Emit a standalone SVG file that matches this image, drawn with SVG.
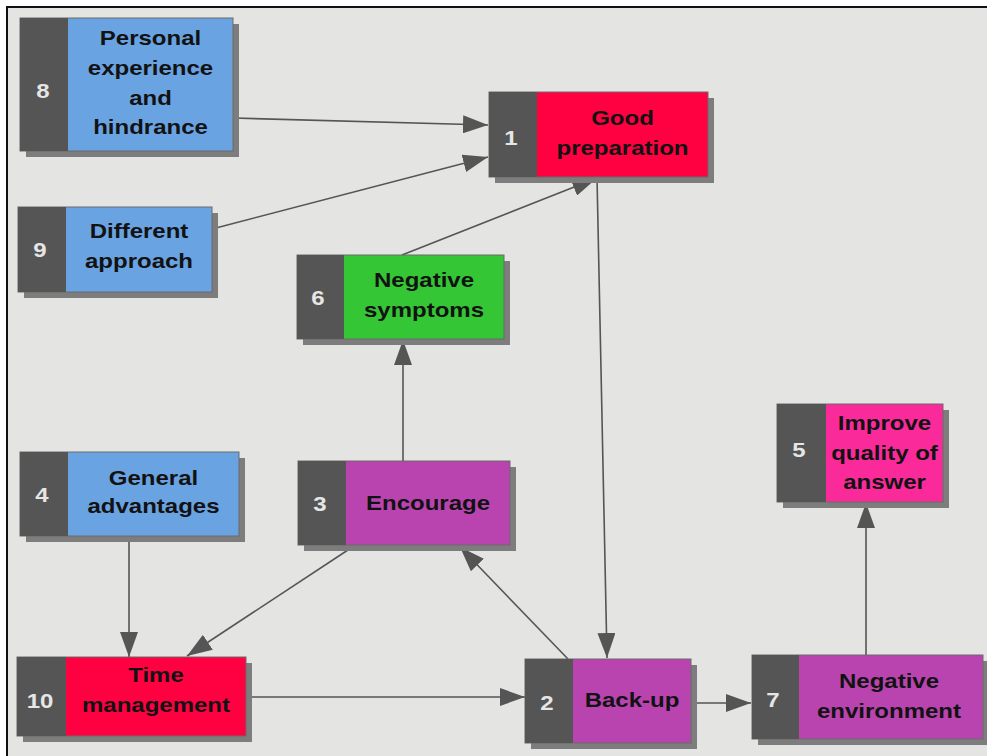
<svg xmlns="http://www.w3.org/2000/svg" width="987" height="756" viewBox="0 0 987 756">
  <defs>
    <style>
      .shadow { fill: #7d7d7d; }
      .box { stroke: #6a6a6a; stroke-width: 1; }
      .strip { fill: #555555; }
      .blue { fill: #69a3e2; }
      .red { fill: #ff0040; }
      .green { fill: #34c634; }
      .purple { fill: #b944b0; }
      .pink { fill: #fa2a9b; }
      .lbl { font-family: "Liberation Sans", Arial, sans-serif; font-weight: bold; font-size: 20px; fill: #121212; text-anchor: middle; }
      .num { font-family: "Liberation Sans", Arial, sans-serif; font-weight: bold; font-size: 20px; fill: #e6e6e6; text-anchor: middle; }
      .edge { stroke: #555555; stroke-width: 1.6; fill: none; marker-end: url(#arrow); }
    </style>
    <marker id="arrow" markerWidth="25" markerHeight="18" refX="25" refY="9" orient="auto" markerUnits="userSpaceOnUse">
      <path d="M0,0 L25,9 L0,18 z" fill="#555555"/>
    </marker>
  </defs>

  <!-- canvas and frame -->
  <rect x="0" y="0" width="987" height="756" fill="#ffffff"/>
  <rect x="7" y="7" width="990" height="760" fill="#e4e4e3" stroke="#111111" stroke-width="2"/>

  <!-- connectors -->
  <g id="connectors">
    <line class="edge" x1="233" y1="118" x2="488" y2="125"/>
    <line class="edge" x1="212" y1="229" x2="488" y2="157"/>
    <line class="edge" x1="402" y1="255" x2="597" y2="178"/>
    <line class="edge" x1="597" y1="177" x2="607" y2="658"/>
    <line class="edge" x1="568" y1="659" x2="460" y2="547"/>
    <line class="edge" x1="354" y1="546" x2="187" y2="656"/>
    <line class="edge" x1="129" y1="536" x2="129" y2="657"/>
    <line class="edge" x1="403" y1="461" x2="403" y2="340"/>
    <line class="edge" x1="246" y1="697" x2="525" y2="697"/>
    <line class="edge" x1="691" y1="703" x2="751" y2="703"/>
    <line class="edge" x1="866" y1="655" x2="866" y2="503"/>
  </g>

  <!-- 8: Personal experience and hindrance -->
  <g id="node8">
    <rect class="shadow" x="26" y="24" width="213" height="133"/>
    <rect class="box blue" x="20" y="18" width="213" height="133"/>
    <rect class="strip" x="20" y="18" width="48" height="133"/>
    <g transform="translate(43 0) scale(1.2 1)"><text class="num" x="0" y="98">8</text></g>
    <g transform="translate(150.5 0) scale(1.2 1)">
      <text class="lbl" x="0" y="45">Personal</text>
      <text class="lbl" x="0" y="75">experience</text>
      <text class="lbl" x="0" y="105">and</text>
      <text class="lbl" x="0" y="134">hindrance</text>
    </g>
  </g>

  <!-- 1: Good preparation -->
  <g id="node1">
    <rect class="shadow" x="495" y="98" width="219" height="85"/>
    <rect class="box red" x="489" y="92" width="219" height="85"/>
    <rect class="strip" x="489" y="92" width="48" height="85"/>
    <g transform="translate(511 0) scale(1.2 1)"><text class="num" x="0" y="145">1</text></g>
    <g transform="translate(622.5 0) scale(1.2 1)">
      <text class="lbl" x="0" y="125">Good</text>
      <text class="lbl" x="0" y="155">preparation</text>
    </g>
  </g>

  <!-- 9: Different approach -->
  <g id="node9">
    <rect class="shadow" x="24" y="213" width="194" height="85"/>
    <rect class="box blue" x="18" y="207" width="194" height="85"/>
    <rect class="strip" x="18" y="207" width="48" height="85"/>
    <g transform="translate(40 0) scale(1.2 1)"><text class="num" x="0" y="257">9</text></g>
    <g transform="translate(139 0) scale(1.2 1)">
      <text class="lbl" x="0" y="238">Different</text>
      <text class="lbl" x="0" y="268">approach</text>
    </g>
  </g>

  <!-- 6: Negative symptoms -->
  <g id="node6">
    <rect class="shadow" x="303" y="261" width="207" height="84"/>
    <rect class="box green" x="297" y="255" width="207" height="84"/>
    <rect class="strip" x="297" y="255" width="47" height="84"/>
    <g transform="translate(318 0) scale(1.2 1)"><text class="num" x="0" y="305">6</text></g>
    <g transform="translate(424 0) scale(1.2 1)">
      <text class="lbl" x="0" y="287">Negative</text>
      <text class="lbl" x="0" y="317">symptoms</text>
    </g>
  </g>

  <!-- 5: Improve quality of answer -->
  <g id="node5">
    <rect class="shadow" x="783" y="410" width="166" height="98"/>
    <rect class="box pink" x="777" y="404" width="166" height="98"/>
    <rect class="strip" x="777" y="404" width="49" height="98"/>
    <g transform="translate(799 0) scale(1.2 1)"><text class="num" x="0" y="457">5</text></g>
    <g transform="translate(884.5 0) scale(1.2 1)">
      <text class="lbl" x="0" y="430">Improve</text>
      <text class="lbl" x="0" y="460">quality of</text>
      <text class="lbl" x="0" y="489">answer</text>
    </g>
  </g>

  <!-- 4: General advantages -->
  <g id="node4">
    <rect class="shadow" x="26" y="458" width="219" height="84"/>
    <rect class="box blue" x="20" y="452" width="219" height="84"/>
    <rect class="strip" x="20" y="452" width="48" height="84"/>
    <g transform="translate(42 0) scale(1.2 1)"><text class="num" x="0" y="502">4</text></g>
    <g transform="translate(153.5 0) scale(1.2 1)">
      <text class="lbl" x="0" y="485">General</text>
      <text class="lbl" x="0" y="513">advantages</text>
    </g>
  </g>

  <!-- 3: Encourage -->
  <g id="node3">
    <rect class="shadow" x="304" y="467" width="212" height="84"/>
    <rect class="box purple" x="298" y="461" width="212" height="84"/>
    <rect class="strip" x="298" y="461" width="48" height="84"/>
    <g transform="translate(320 0) scale(1.2 1)"><text class="num" x="0" y="511">3</text></g>
    <g transform="translate(428 0) scale(1.2 1)">
      <text class="lbl" x="0" y="510">Encourage</text>
    </g>
  </g>

  <!-- 10: Time management -->
  <g id="node10">
    <rect class="shadow" x="23" y="663" width="229" height="79"/>
    <rect class="box red" x="17" y="657" width="229" height="79"/>
    <rect class="strip" x="17" y="657" width="49" height="79"/>
    <g transform="translate(40 0) scale(1.2 1)"><text class="num" x="0" y="708">10</text></g>
    <g transform="translate(156 0) scale(1.2 1)">
      <text class="lbl" x="0" y="682">Time</text>
      <text class="lbl" x="0" y="712">management</text>
    </g>
  </g>

  <!-- 2: Back-up -->
  <g id="node2">
    <rect class="shadow" x="531" y="665" width="166" height="84"/>
    <rect class="box purple" x="525" y="659" width="166" height="84"/>
    <rect class="strip" x="525" y="659" width="48" height="84"/>
    <g transform="translate(547 0) scale(1.2 1)"><text class="num" x="0" y="710">2</text></g>
    <g transform="translate(632 0) scale(1.2 1)">
      <text class="lbl" x="0" y="707">Back-up</text>
    </g>
  </g>

  <!-- 7: Negative environment -->
  <g id="node7">
    <rect class="shadow" x="758" y="661" width="231" height="84"/>
    <rect class="box purple" x="752" y="655" width="231" height="84"/>
    <rect class="strip" x="752" y="655" width="47" height="84"/>
    <g transform="translate(773 0) scale(1.2 1)"><text class="num" x="0" y="707">7</text></g>
    <g transform="translate(889 0) scale(1.2 1)">
      <text class="lbl" x="0" y="688">Negative</text>
      <text class="lbl" x="0" y="718">environment</text>
    </g>
  </g>
</svg>
